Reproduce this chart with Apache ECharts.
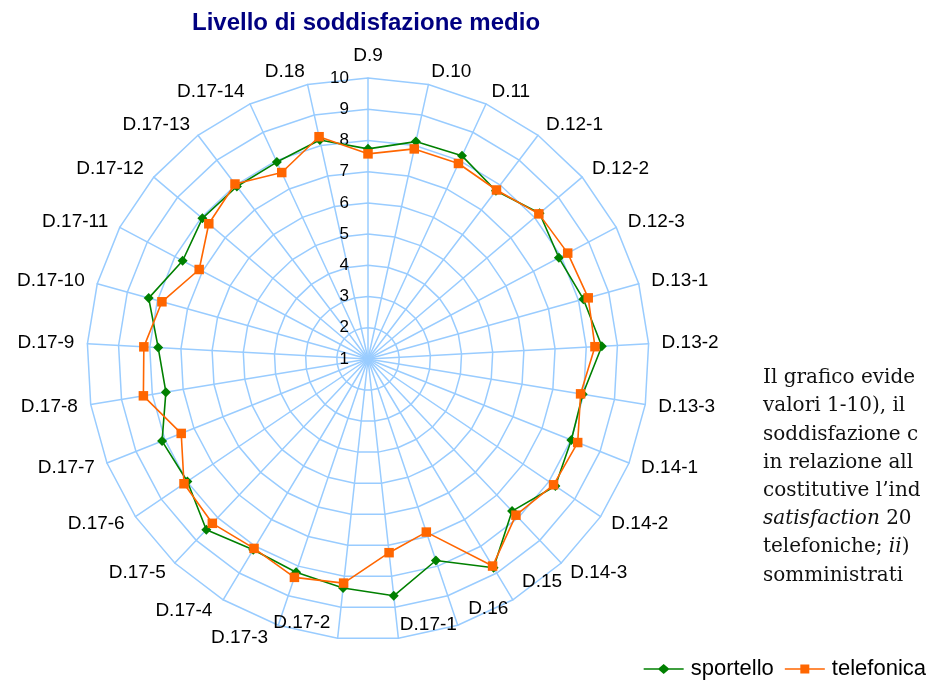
<!DOCTYPE html>
<html>
<head>
<meta charset="utf-8">
<script src="https://cdn.jsdelivr.net/npm/echarts@6/dist/echarts.min.js"></script>
<style>
html, body { margin: 0; padding: 0; background: #fff; }
#chart { width: 928px; height: 680px; }
</style>
</head>
<body>
<div id="chart"></div>
<script>
// categorie in senso orario partendo dall'alto
const categories = ['D.9', 'D.10', 'D.11', 'D.12-1', 'D.12-2', 'D.12-3', 'D.13-1', 'D.13-2', 'D.13-3',
  'D.14-1', 'D.14-2', 'D.14-3', 'D.15', 'D.16', 'D.17-1', 'D.17-2', 'D.17-3', 'D.17-4', 'D.17-5',
  'D.17-6', 'D.17-7', 'D.17-8', 'D.17-9', 'D.17-10', 'D.17-11', 'D.17-12', 'D.17-13', 'D.17-14', 'D.18'];
const sportello = [7.73, 8.13, 8.17, 7.77, 8.21, 7.92, 8.16, 8.50, 7.97, 8.01, 8.25, 7.71, 8.80, 7.81,
  8.63, 8.38, 8.21, 8.13, 8.53, 7.99, 8.10, 7.56, 7.73, 8.29, 7.72, 7.96, 7.94, 7.95, 8.18];
const telefonica = [7.57, 7.89, 7.90, 7.80, 8.18, 8.24, 8.32, 8.28, 7.90, 8.23, 8.18, 7.89, 8.74, 6.85,
  7.24, 8.22, 8.38, 8.08, 8.25, 8.12, 7.44, 8.29, 8.19, 7.85, 7.12, 7.69, 8.04, 7.58, 8.29];
const scaleMin = 1;
const scaleMax = 10;

// testo del documento a destra del grafico
const sideText = [
  'Il grafico evide',
  'valori 1-10), il',
  'soddisfazione c',
  'in relazione all',
  'costitutive l\u2019ind',
  '{i|satisfaction} 20',
  'telefoniche; {i|ii})',
  'somministrati'
];

// etichette in basso spinte verso l'alto come nell'originale
const nameGapFix = { 'D.15': -21, 'D.16': -17.5, 'D.17-1': -14, 'D.17-2': -16 };
const namePadding = {
  'D.15': [0, 0, 0, 20],
  'D.16': [0, 0, 0, 16],
  'D.17-1': [0, 0, 0, 3],
  'D.17-2': [0, 9, 0, 0],
  'D.17-3': [0, 6, 0, 0],
  'D.17-4': [0, 4, 0, 0]
};

// il radar di echarts gira in senso antiorario: inverto l'ordine (D.9 resta in cima)
const order = [0].concat(categories.map((c, i) => i).slice(1).reverse());
const reorder = arr => order.map(i => arr[i]);

const GREEN = '#008000';
const ORANGE = '#ff6600';
const GRID = '#99ccff';

let chart = echarts.init(document.getElementById('chart'));

let option = {
  animation: false,
  title: {
    text: 'Livello di soddisfazione medio',
    left: 192,
    top: 11,
    padding: 0,
    textStyle: { color: '#000080', fontSize: 24, fontWeight: 'bold', fontFamily: 'Liberation Sans' }
  },
  legend: {
    data: [
      { name: 'sportello', icon: 'path://M0,4.2H15L20,0L25,4.2H40V5.8H25L20,10L15,5.8H0Z' },
      { name: 'telefonica', icon: 'path://M0,4.2H15.5V0.5H24.5V4.2H40V5.8H24.5V9.5H15.5V5.8H0Z' }
    ],
    right: 2,
    top: 658,
    padding: 0,
    itemWidth: 40,
    itemHeight: 10,
    itemGap: 11,
    textStyle: { color: '#000', fontSize: 22, fontFamily: 'Liberation Sans', padding: [0, 0, 0, 2] }
  },
  radar: {
    center: [368, 359],
    radius: 281,
    startAngle: 90,
    shape: 'polygon',
    splitNumber: 9,
    nameGap: 13,
    indicator: reorder(categories).map((name, k) => {
      let ind = {
        name: name,
        min: scaleMin,
        max: scaleMax,
        nameTextStyle: namePadding[name] ? { padding: namePadding[name] } : {},
        axisLabel: {
          show: k === 0,
          showMinLabel: true,
          color: '#000',
          fontSize: 17,
          fontFamily: 'Liberation Sans',
          margin: 19
        }
      };
      if (nameGapFix[name] != null) ind.nameGap = nameGapFix[name];
      return ind;
    }),
    axisName: { color: '#000', fontSize: 19, fontFamily: 'Liberation Sans' },
    splitArea: { show: false },
    splitLine: { lineStyle: { color: GRID, width: 1.5 } },
    axisLine: { lineStyle: { color: GRID, width: 1.5 } },
    axisTick: { show: false }
  },
  series: [{
    type: 'radar',
    data: [
      {
        name: 'sportello',
        value: reorder(sportello),
        symbol: 'diamond',
        symbolSize: 10,
        itemStyle: { color: GREEN },
        lineStyle: { color: GREEN, width: 1.6 }
      },
      {
        name: 'telefonica',
        value: reorder(telefonica),
        symbol: 'rect',
        symbolSize: 9.5,
        itemStyle: { color: ORANGE },
        lineStyle: { color: ORANGE, width: 1.6 }
      }
    ]
  }],
  graphic: sideText.map((t, i) => ({
    type: 'text',
    left: 763,
    top: 368 + i * 28.2,
    style: {
      text: t,
      fill: '#111',
      font: '20px "DejaVu Serif"',
      rich: { i: { fontStyle: 'italic', fontSize: 20, fontFamily: 'DejaVu Serif', fill: '#111' } }
    }
  }))
};

chart.setOption(option);
</script>
</body>
</html>
